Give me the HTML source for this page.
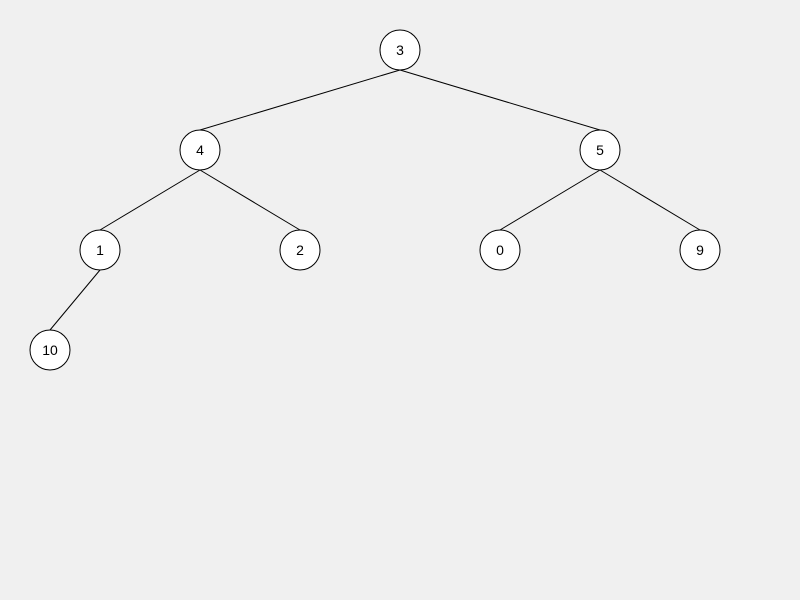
<!DOCTYPE html>
<html>
<head>
<meta charset="utf-8">
<style>
  html, body { margin: 0; padding: 0; background: #f0f0f0; }
  svg { display: block; }
  text { font-family: "Liberation Sans", sans-serif; font-size: 14px; }
</style>
</head>
<body>
<svg id="tree" width="800" height="600" xmlns="http://www.w3.org/2000/svg">
  <rect x="0" y="0" width="800" height="600" fill="#f0f0f0"/>
</svg>
<script>
const nodeLabels = ["3", "4", "5", "1", "2", "0", "9", "10"];
const nodeDepths = [0, 1, 1, 2, 2, 2, 2, 3];
const nodeSlots = [0.5, 0.25, 0.75, 0.125, 0.375, 0.625, 0.875, 0.0625];
const edgeParents = [0, 0, 1, 1, 2, 2, 3];
const edgeChildren = [1, 2, 3, 4, 5, 6, 7];

const W = 800, R = 20, TOP = 50, LEVEL = 100;
const xPos = s => s * W;
const yPos = d => TOP + d * LEVEL;
const NS = "http://www.w3.org/2000/svg";
const svg = document.getElementById("tree");

edgeParents.forEach((p, i) => {
  const c = edgeChildren[i];
  const l = document.createElementNS(NS, "line");
  l.setAttribute("x1", xPos(nodeSlots[p]));
  l.setAttribute("y1", yPos(nodeDepths[p]) + R);
  l.setAttribute("x2", xPos(nodeSlots[c]));
  l.setAttribute("y2", yPos(nodeDepths[c]) - R);
  l.setAttribute("stroke", "#000");
  l.setAttribute("stroke-width", "1");
  
  
  svg.appendChild(l);
});

nodeLabels.forEach((lab, i) => {
  const g = document.createElementNS(NS, "g");
  
  
  const cx = xPos(nodeSlots[i]), cy = yPos(nodeDepths[i]);
  const c = document.createElementNS(NS, "circle");
  c.setAttribute("cx", cx);
  c.setAttribute("cy", cy);
  c.setAttribute("r", R);
  c.setAttribute("fill", "#fff");
  c.setAttribute("stroke", "#000");
  c.setAttribute("stroke-width", "1");
  
  
  const t = document.createElementNS(NS, "text");
  t.setAttribute("x", cx);
  t.setAttribute("y", cy + 5);
  t.setAttribute("text-anchor", "middle");
  t.setAttribute("fill", "#000");
  t.textContent = lab;
  
  
  g.appendChild(c);
  g.appendChild(t);
  svg.appendChild(g);
});
</script>
</body>
</html>
